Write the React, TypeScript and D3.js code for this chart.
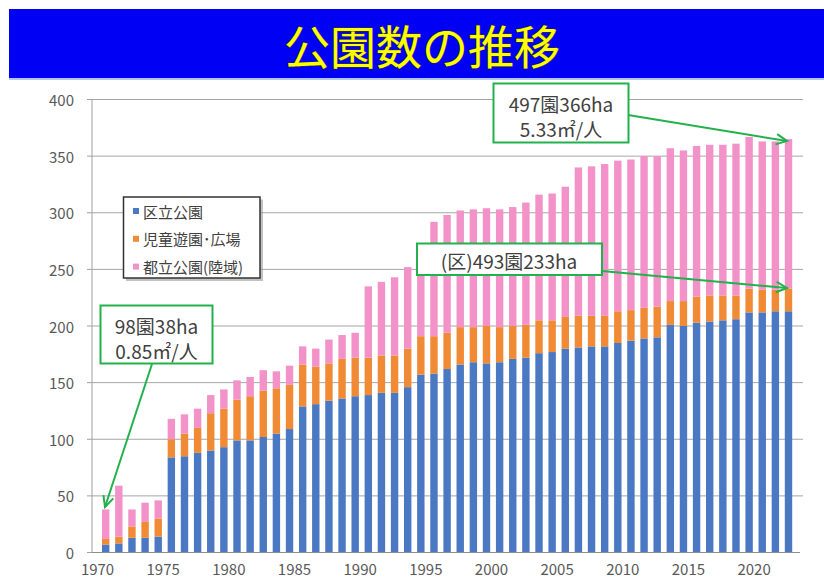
import React from "react";
import * as d3 from "d3";

// Years shown as bars
const years: number[] = d3.range(1971, 2024);

// 区立公園 (ha)
const wardParks: number[] = [
  7, 8, 13, 13, 14, 84, 85, 88, 90, 93,
  99, 99, 102, 105, 109, 129, 131, 134, 136, 138,
  139, 141, 141, 146, 157, 158, 162, 166, 168, 167,
  168, 171, 172, 176, 177, 180, 181, 182, 182, 185,
  187, 189, 190, 201, 200, 203, 204, 205, 206, 212,
  212, 213, 213,
];
// 児童遊園・広場 (ha)
const playgrounds: number[] = [
  5, 6, 10, 14, 16, 16, 20, 22, 33, 34,
  36, 39, 41, 40, 39, 37, 33, 33, 35, 34,
  33, 33, 33, 34, 34, 33, 32, 33, 31, 33,
  31, 29, 29, 29, 28, 28, 28, 27, 27, 28,
  27, 27, 27, 21, 22, 23, 23, 22, 21, 21,
  20, 19, 20,
];
// 都立公園(陸域) (ha)
const metroParks: number[] = [
  26, 45, 15, 17, 16, 18, 17, 17, 16, 17,
  17, 17, 18, 15, 17, 16, 16, 21, 21, 22,
  63, 65, 69, 72, 71, 101, 104, 103, 104, 104,
  104, 105, 108, 111, 112, 115, 131, 132, 134, 133,
  133, 134, 133, 135, 133, 133, 133, 133, 134, 134,
  131, 131, 132,
];

const seriesNames: string[] = ["区立公園", "児童遊園･広場", "都立公園(陸域)"];
const seriesColors: string[] = ["#4a78c2", "#f08a34", "#f292c8"];

const yTicks: number[] = [0, 50, 100, 150, 200, 250, 300, 350, 400];
const xTickYears: number[] = [1970, 1975, 1980, 1985, 1990, 1995, 2000, 2005, 2010, 2015, 2020];

const FONT = "'Noto Sans CJK JP', 'Noto Sans', sans-serif";

export default function App() {
  const W = 824;
  const H = 578;
  const plotLeft = 92;
  const plotRight = 803;

  const x = d3.scaleLinear().domain([1971, 2023]).range([105.7, 788.5]);
  const barW = 7.4;
  const y = d3.scaleLinear().domain([0, 400]).range([552.5, 99.5]);

  const rows = years.map((yr, i) => ({
    year: yr,
    s0: wardParks[i],
    s1: playgrounds[i],
    s2: metroParks[i],
  }));
  const stack = d3.stack<any>().keys(["s0", "s1", "s2"]);
  const stacked = stack(rows);

  const green = "#22b14c";
  const textCol = "#404040";

  const arrowHead = (x1: number, y1: number, x2: number, y2: number, len = 12, ang = 0.45) => {
    const a = Math.atan2(y2 - y1, x2 - x1);
    const p1 = [x2 - len * Math.cos(a - ang), y2 - len * Math.sin(a - ang)];
    const p2 = [x2 - len * Math.cos(a + ang), y2 - len * Math.sin(a + ang)];
    return `M${p1[0]},${p1[1]} L${x2},${y2} L${p2[0]},${p2[1]}`;
  };

  const arrows = [
    { x1: 152, y1: 364, x2: 105, y2: 507 },
    { x1: 628, y1: 115, x2: 787, y2: 141 },
    { x1: 602, y1: 271, x2: 787, y2: 288 },
  ];

  return (
    <svg
      width={W}
      height={H}
      style={{ position: "absolute", left: 0, top: 0, background: "#fff" }}
      fontFamily={FONT}
    >
      {/* Title banner */}
      <rect x={9} y={9} width={W - 9} height={69} fill="#0000f5" />
      <rect x={9} y={78} width={W - 9} height={2} fill="#b4c6f0" />
      <text
        x={422}
        y={44}
        textAnchor="middle"
        dominantBaseline="central"
        fontSize={46}
        fontWeight={400}
        fill="#ffff00"
        stroke="#3a3a00"
        strokeWidth={0.8}
        paintOrder="stroke"
      >
        公園数の推移
      </text>

      {/* Gridlines */}
      {yTicks.slice(1).map((t) => (
        <line key={t} x1={plotLeft} x2={plotRight} y1={y(t)} y2={y(t)} stroke="#a6a6a6" strokeWidth={1} />
      ))}
      {/* Y axis */}
      <line x1={plotLeft} x2={plotLeft} y1={y(400)} y2={y(0)} stroke="#a0a0a0" strokeWidth={1} />
      {yTicks.map((t) => (
        <g key={t}>
          <line x1={plotLeft - 5} x2={plotLeft} y1={y(t)} y2={y(t)} stroke="#a0a0a0" />
          <text x={74} y={y(t)} textAnchor="end" dominantBaseline="central" fontSize={15} fill="#595959">
            {t}
          </text>
        </g>
      ))}

      {/* Bars */}
      {stacked.map((layer, si) => (
        <g key={si} fill={seriesColors[si]}>
          {layer.map((d, i) => (
            <rect
              key={i}
              x={x(years[i]) - barW / 2}
              y={y(d[1])}
              width={barW}
              height={y(d[0]) - y(d[1])}
            />
          ))}
        </g>
      ))}

      {/* X axis */}
      <line x1={plotLeft} x2={800} y1={y(0)} y2={y(0)} stroke="#8c8c8c" strokeWidth={1} />
      {xTickYears.map((yr) => (
        <text key={yr} x={x(yr + 0.38)} y={568.5} textAnchor="middle" dominantBaseline="central" fontSize={15} fill="#595959">
          {yr}
        </text>
      ))}

      {/* Legend */}
      <rect x={126} y={199.5} width={137} height={81.5} fill="#9a9a9a" opacity={0.6} />
      <rect x={123.5} y={197} width={136.5} height={81} fill="#fff" stroke="#333" strokeWidth={1.5} />
      {seriesNames.map((n, i) => (
        <g key={n}>
          <rect x={133} y={211 + i * 27.8 - 3} width={6} height={6} fill={seriesColors[i]} />
          <text x={143} y={211 + i * 27.8} dominantBaseline="central" fontSize={15} fill="#404040">
            {n}
          </text>
        </g>
      ))}

      {/* Annotation boxes */}
      <rect x={100.5} y={305.5} width={112} height={58} fill="#fff" stroke={green} strokeWidth={2} />
      <text x={156.5} y={325} textAnchor="middle" dominantBaseline="central" fontSize={19} fill={textCol}>98園38ha</text>
      <text x={156.5} y={350} textAnchor="middle" dominantBaseline="central" fontSize={19} fill={textCol}>0.85㎡/人</text>

      <rect x={493.5} y={83.5} width={135} height={59} fill="#fff" stroke={green} strokeWidth={2} />
      <text x={561} y={103} textAnchor="middle" dominantBaseline="central" fontSize={19} fill={textCol}>497園366ha</text>
      <text x={561} y={128} textAnchor="middle" dominantBaseline="central" fontSize={19} fill={textCol}>5.33㎡/人</text>

      <rect x={417} y={243.5} width={185} height={31.5} fill="#fff" stroke={green} strokeWidth={2} />
      <text x={509} y={260} textAnchor="middle" dominantBaseline="central" fontSize={19} fill={textCol}>(区)493園233ha</text>

      {/* Arrows */}
      {arrows.map((a, i) => (
        <g key={i} stroke={green} strokeWidth={2} fill="none">
          <line x1={a.x1} y1={a.y1} x2={a.x2} y2={a.y2} />
          <path d={arrowHead(a.x1, a.y1, a.x2, a.y2)} />
        </g>
      ))}
    </svg>
  );
}
